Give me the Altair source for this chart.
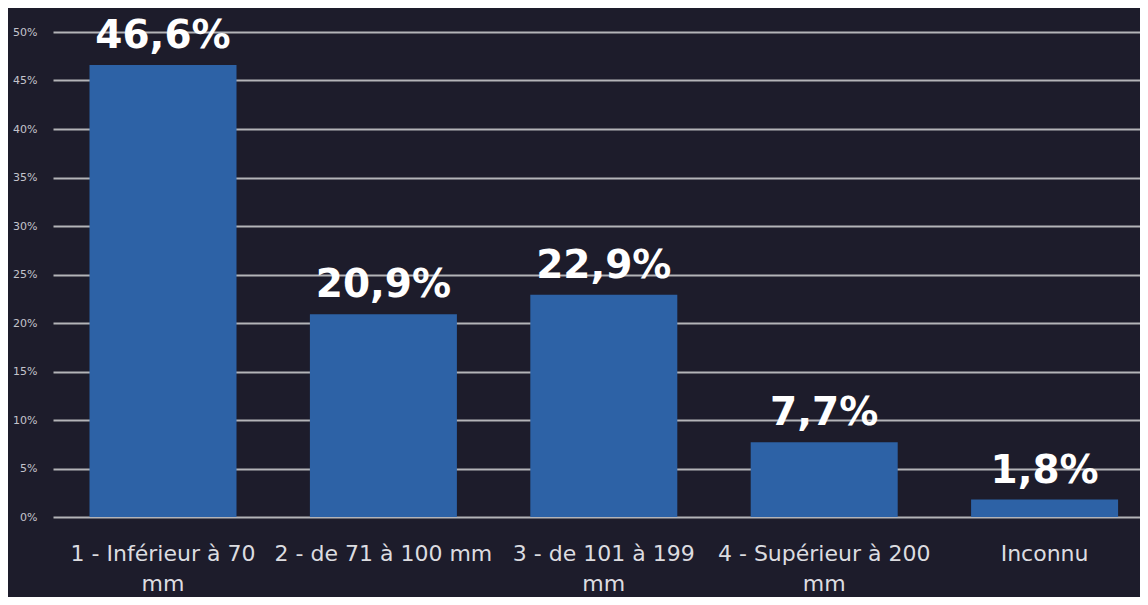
import altair as alt
import pandas as pd

categories = ["1 - Inférieur à 70 mm", "2 - de 71 à 100 mm", "3 - de 101 à 199 mm",
              "4 - Supérieur à 200 mm", "Inconnu"]
label_lines = [["1 - Inférieur à 70", "mm"], ["2 - de 71 à 100 mm"],
               ["3 - de 101 à 199", "mm"], ["4 - Supérieur à 200", "mm"], ["Inconnu"]]
values = [46.6, 20.9, 22.9, 7.7, 1.8]
y_ticks = [0, 5, 10, 15, 20, 25, 30, 35, 40, 45, 50]

df = pd.DataFrame({
    "cat": categories,
    "val": values,
    "txt": [f"{v:.1f}".replace(".", ",") + "%" for v in values],
})

# build label expression for multi-line x labels
expr = "datum.value"
for cat, lines in reversed(list(zip(categories, label_lines))):
    arr = "[" + ",".join("'" + l + "'" for l in lines) + "]"
    expr = f"datum.value == '{cat}' ? {arr} : ({expr})"

BG = "#1d1c2b"
BAR = "#2d62a6"
FONT = "DejaVu Sans"

x = alt.X("cat:N", sort=categories, title=None,
          scale=alt.Scale(paddingInner=0.333, paddingOuter=0.1325, align=0.625),
          axis=alt.Axis(labelExpr=expr, labelAngle=0, labelFont=FONT,
                        labelFontSize=22, labelColor="#dcdce0", labelPadding=26,
                        labelLineHeight=30, labelBaseline="top", domain=False,
                        ticks=False, labelLimit=400))
y = alt.Y("val:Q", title=None,
          scale=alt.Scale(domain=[0, 50], nice=False),
          axis=alt.Axis(values=y_ticks, labelExpr="datum.value + '%'",
                        labelFont=FONT, labelFontSize=11, labelColor="#c4c4cc",
                        labelPadding=16, domain=False, ticks=False,
                        gridColor="#b4b4b8", gridWidth=2, gridOpacity=1))

bars = alt.Chart(df).mark_bar(color=BAR).encode(x=x, y=y)
texts = alt.Chart(df).mark_text(font=FONT, fontSize=39, fontWeight="bold",
                                color="white", baseline="alphabetic", dy=-17).encode(
    x=alt.X("cat:N", sort=categories), y="val:Q", text="txt:N")

chart = (bars + texts).properties(
    width=1087, height=485, background=BG,
    padding={"left": 45, "top": 24, "right": 0, "bottom": 80},
    autosize=alt.AutoSizeParams(type="none"),
).configure_view(stroke=None)

chart.save("out.html", embed_options={"renderer": "svg", "actions": False})
